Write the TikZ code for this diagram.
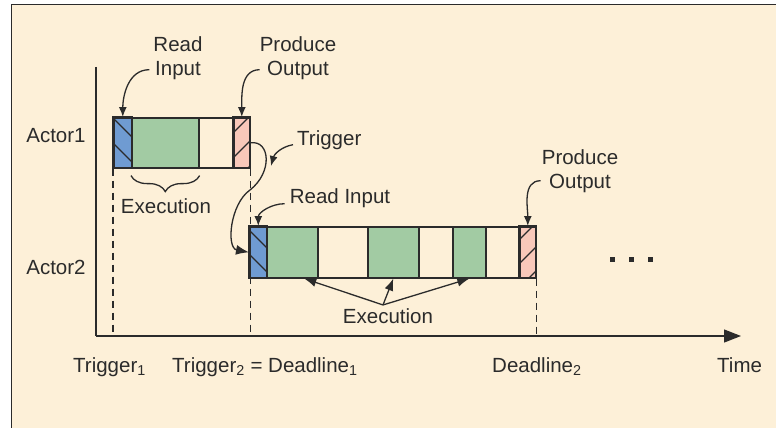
\documentclass[tikz,border=0pt]{standalone}
\usepackage{fontspec}
\setmainfont{Liberation Sans}
\usetikzlibrary{arrows.meta,decorations.pathreplacing,calc}
\definecolor{bg}{HTML}{FDF0D8}
\definecolor{rdblue}{HTML}{6F9BD2}
\definecolor{exgreen}{HTML}{A2CBA3}
\definecolor{prpink}{HTML}{F8C8BA}
\definecolor{ink}{HTML}{2B2B2B}
\newcommand{\sbs}[1]{\textsubscript{#1}}
\begin{document}
\begin{tikzpicture}[x=1pt,y=-1pt,
  lbl/.style={font=\fontsize{20.5}{24}\selectfont, text=ink, inner sep=0pt, align=center},
  seg/.style={draw=ink, line width=1.6pt, inner sep=0pt, anchor=north west, minimum height=50pt},
  guide/.style={draw=ink, line width=1.2pt, dash pattern=on 7pt off 5pt},
  pointer/.style={draw=ink, line width=1.3pt, -{Latex[length=10pt,width=8pt]}},
  hatch/.style={draw=ink, line width=1.2pt},
  dotsq/.style={fill=ink, minimum size=5pt, inner sep=0pt}]
\useasboundingbox (0,0) rectangle (776,428);
% background and frame
\fill[bg] (11,4) rectangle (776,428);
\draw[ink, line width=1.5pt] (11.5,428) -- (11.5,4.5) -- (776,4.5);

% axes
\coordinate (org) at (96,336);
\coordinate (ytop) at (96,67);
\coordinate (xend) at (741,336);
\draw[ink, line width=1.3pt] (ytop) -- (org);
\draw[ink, line width=1.3pt, -{Triangle[length=17pt,width=13pt]}] (org) -- (xend);

% Actor 1 bar
\node[seg, fill=rdblue, minimum width=18pt] (a1r) at (113,117) {};
\node[seg, fill=exgreen, minimum width=67pt] (a1g) at (131,117) {};
\node[seg, minimum width=35pt] (a1w) at (198,117) {};
\node[seg, fill=prpink, minimum width=16pt] (a1p) at (233,117) {};

% Actor 2 bar
\node[seg, fill=rdblue, minimum width=17pt, minimum height=51pt] (a2r) at (249,226) {};
\node[seg, fill=exgreen, minimum width=51pt, minimum height=51pt] (g1) at (266,226) {};
\node[seg, minimum width=50pt, minimum height=51pt] (w1) at (317,226) {};
\node[seg, fill=exgreen, minimum width=51pt, minimum height=51pt] (g2) at (367,226) {};
\node[seg, minimum width=34pt, minimum height=51pt] (w2) at (418,226) {};
\node[seg, fill=exgreen, minimum width=33pt, minimum height=51pt] (g3) at (452,226) {};
\node[seg, minimum width=34pt, minimum height=51pt] (w3) at (485,226) {};
\node[seg, fill=prpink, minimum width=16pt, minimum height=51pt] (a2p) at (519,226) {};

% hatching
\begin{scope}
\clip (a1r.north west) rectangle (a1r.south east);
\foreach \c in {93,118,143,168} \draw[hatch] (113,\c) -- (140,\c+27);
\end{scope}
\begin{scope}
\clip (a1p.north west) rectangle (a1p.south east);
\foreach \c in {108,133,158,183} \draw[hatch] (233,\c) -- (260,\c-27);
\end{scope}
\begin{scope}
\clip (a2r.north west) rectangle (a2r.south east);
\foreach \c in {206,230,254,278} \draw[hatch] (249,\c) -- (276,\c+27);
\end{scope}
\begin{scope}
\clip (a2p.north west) rectangle (a2p.south east);
\foreach \c in {216,240,264,288} \draw[hatch] (519,\c) -- (546,\c-27);
\end{scope}
% redraw outlines over hatching
\foreach \n in {a1r,a1p,a2r,a2p} \draw[ink, line width=1.6pt] (\n.north west) rectangle (\n.south east);

% dashed guides
\draw[guide] (a1r.south west) -- (a1r.south west |- org);
\draw[guide] (a1p.south east) -- (a1p.south east |- org);
\draw[guide] (a2p.south east) -- (a2p.south east |- org);

% actor labels
\node[lbl, anchor=base] (act1) at (56,142) {Actor1};
\node[lbl, anchor=base] (act2) at (56,274) {Actor2};

% Actor 1 annotations
\node[lbl, anchor=base] (ri1) at (178,75) {Read\\Input};
\draw[pointer] ($(ri1.west)+(-4,12)$) to[out=180,in=90] (a1r.north);
\node[lbl, anchor=base] (po1) at (298,75) {Produce\\Output};
\draw[pointer] ($(po1.west)+(0,12)$) to[out=180,in=90] (a1p.north);

\draw[decorate, decoration={brace, mirror, amplitude=16pt}, ink, line width=1.3pt]
  (a1g.south west) ++(0,7) coordinate (br1) -- ($(a1g.south east)+(0,7)$) coordinate (br2);
\node[lbl, anchor=base] (ex1) at (166,213) {Execution};

% Trigger
\node[lbl, anchor=base west] (trg) at (297,145) {Trigger};
\draw[pointer] ($(trg.west)+(-4,5)$) to[out=190,in=75] (271,166);
\draw[ink, line width=1.3pt, -{Latex[length=13pt,width=10pt]}]
  (a1p.east) .. controls (270,140) and (273,172) .. (250,190)
  .. controls (230,204) and (226,248) .. (a2r.west);

% Actor 2 annotations
\node[lbl, anchor=base] (ri2) at (340,203) {Read Input};
\draw[pointer] ($(ri2.west)+(-5,6)$) to[out=180,in=90] (a2r.north);
\node[lbl, anchor=base] (po2) at (580,188) {Produce\\Output};
\draw[pointer] ($(po2.west)+(-1,10)$) to[out=180,in=90] (a2p.north);

\node[lbl, anchor=base] (ex2) at (388,323) {Execution};
\coordinate (exs) at ($(ex2.north)+(-5,-3)$);
\draw[pointer, -{Latex[length=12pt,width=9pt]}] (exs) -- ($(g1.south)+(12,0)$);
\draw[pointer, -{Latex[length=12pt,width=9pt]}] (exs) -- (g2.south);
\draw[pointer, -{Latex[length=12pt,width=9pt]}] (exs) -- (g3.south);

% dots
\node[dotsq] (d1) at (612,259) {};
\node[dotsq] (d2) at (631,259) {};
\node[dotsq] (d3) at (650,259) {};

% bottom labels
\node[lbl, anchor=base west] (t1) at (73,372) {Trigger\sbs{1}};
\node[lbl, anchor=base west] (t2) at (172,372) {Trigger\sbs{2} = Deadline\sbs{1}};
\node[lbl, anchor=base west] (dl2) at (492,372) {Deadline\sbs{2}};
\node[lbl, anchor=base west] (tm) at (717,372) {Time};
\end{tikzpicture}
\end{document}
